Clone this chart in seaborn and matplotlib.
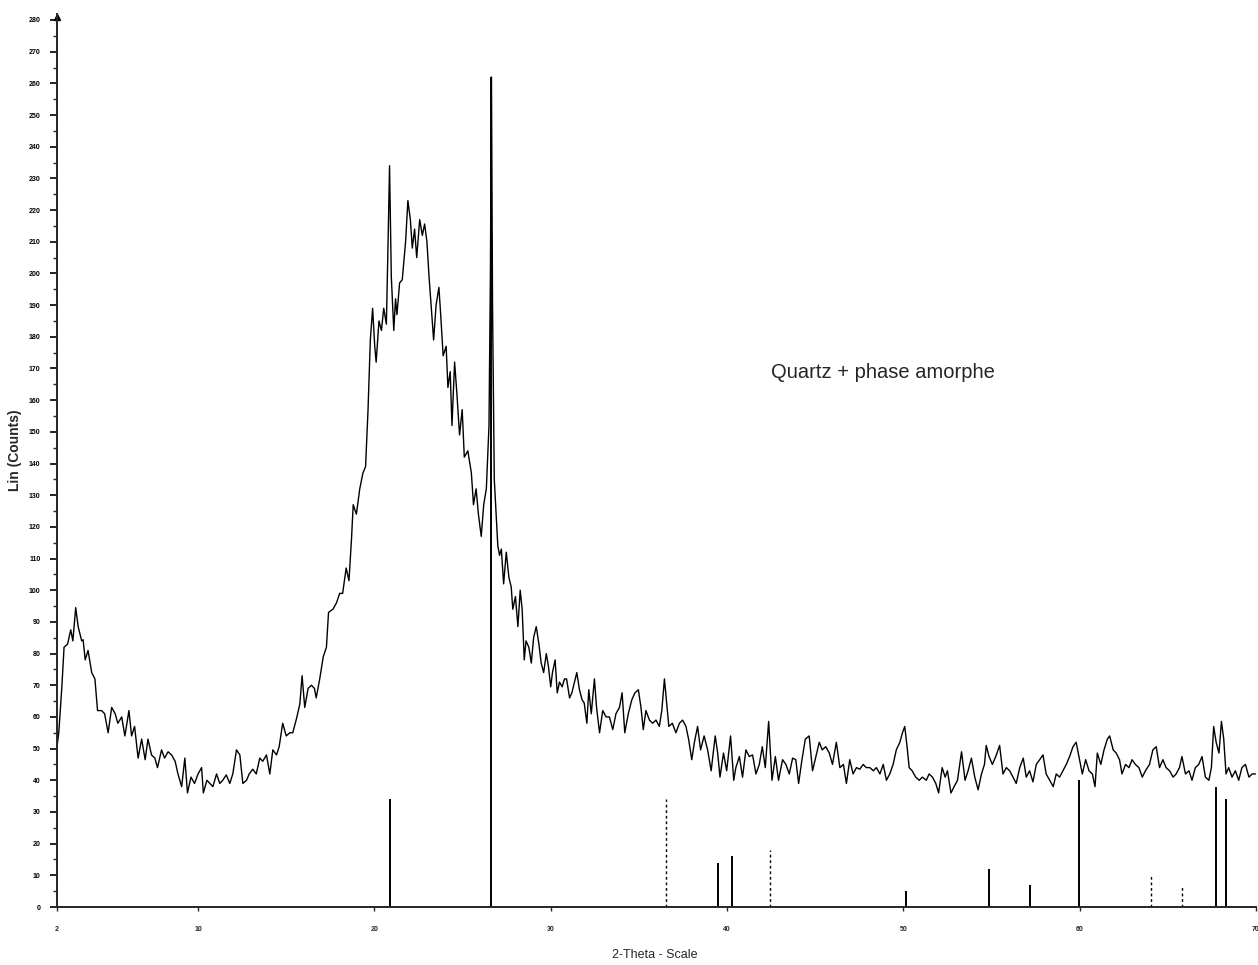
import numpy as np
import pandas as pd
import matplotlib
matplotlib.use("Agg")
import matplotlib.pyplot as plt
from matplotlib import font_manager
import seaborn as sns

# ---------------- data ----------------
theta_a = [2.0, 2.1, 2.27, 2.4, 2.6, 2.78, 2.9, 3.06, 3.2, 3.4, 3.48, 3.6, 3.76, 3.97, 4.15, 4.3,
           4.53, 4.7, 4.9, 5.1, 5.3, 5.45, 5.67, 5.85, 6.08, 6.23, 6.4, 6.6, 6.8, 7.0, 7.16, 7.36,
           7.55, 7.7, 7.93, 8.1, 8.3, 8.5, 8.7, 8.86, 9.07, 9.25, 9.4, 9.6, 9.8, 10.0, 10.2, 10.3,
           10.5, 10.67, 10.84, 11.05, 11.23, 11.4, 11.6, 11.8, 11.97, 12.18, 12.37, 12.54, 12.75,
           12.9, 13.1, 13.3, 13.5, 13.67, 13.88, 14.07, 14.24, 14.45, 14.6, 14.8, 15.0, 15.2,
           15.37, 15.58]
counts_a = [50.6, 55, 69, 82, 83, 87.5, 84, 94.5, 88.5, 84, 84.4, 78, 81, 74, 72, 62,
            62, 61, 55, 63, 61, 58, 60, 54, 62, 54, 57, 47, 53, 46.5, 53, 48,
            47, 44, 49.6, 47, 49, 48, 46, 42, 38, 47, 36, 41, 39, 42, 44, 36,
            40, 39, 38, 42, 39, 40, 41.7, 39, 42, 49.6, 48, 39, 40,
            42, 43.5, 42, 47, 46, 48, 42, 49.6, 48, 50.6, 58, 54, 55,
            55, 59.4]

theta_b = [15.77, 15.9, 16.05, 16.24, 16.43, 16.6, 16.7, 16.9, 17.1, 17.28, 17.4, 17.65, 17.85,
           18.03, 18.2, 18.4, 18.56, 18.7, 18.8, 18.98, 19.17, 19.35, 19.5, 19.64, 19.77, 19.9,
           20.02, 20.1, 20.26, 20.4, 20.53, 20.68, 20.77, 20.86, 20.96, 21.1, 21.2, 21.28, 21.43,
           21.58, 21.77, 21.9, 22.04, 22.15, 22.28, 22.4, 22.57, 22.72, 22.85, 22.98, 23.1, 23.23,
           23.36, 23.5, 23.66, 23.76, 23.9, 24.07, 24.17, 24.3, 24.4, 24.55, 24.68, 24.83, 24.98,
           25.1, 25.3, 25.5, 25.62, 25.77, 25.9, 26.06, 26.2, 26.35, 26.5, 26.58, 26.64, 26.7,
           26.8, 26.9, 27.0, 27.1]
counts_b = [64, 73, 63, 69, 70, 69, 66, 72, 79, 82, 93, 94, 96,
            99, 99, 107, 103, 116, 127, 124, 132, 137, 139, 157, 179, 189,
            177, 172, 185, 182, 189, 184, 208, 234, 199, 182, 192, 187, 197,
            198, 210, 223, 217, 208, 214, 205, 217, 212, 215.6, 210, 199, 189,
            179, 190, 195.6, 187, 174, 177, 164, 169, 152, 172, 162, 149, 157,
            142, 144, 137, 127, 132, 124, 117, 127, 132, 152, 200, 262, 190,
            135, 124.5, 114, 111]

theta_c = [27.2, 27.33, 27.48, 27.63, 27.76, 27.85, 28.0, 28.14, 28.27, 28.38, 28.5, 28.6, 28.76,
           28.9, 29.03, 29.18, 29.33, 29.46, 29.6, 29.75, 29.87, 30.0, 30.1, 30.25, 30.37, 30.5,
           30.65, 30.78, 30.9, 31.07, 31.2, 31.35, 31.48, 31.63, 31.78, 31.9, 32.05, 32.16, 32.3,
           32.48, 32.6, 32.77, 32.95, 33.14, 33.33, 33.52, 33.7, 33.9, 34.05, 34.2, 34.4, 34.6,
           34.78, 34.97, 35.12, 35.25, 35.4, 35.6, 35.78, 35.97, 36.16, 36.3, 36.45, 36.6, 36.7,
           36.9, 37.1, 37.3, 37.48, 37.67, 37.82, 38.0, 38.15, 38.33, 38.5, 38.7]
counts_c = [113, 102, 112, 104, 101, 94, 98, 88.5, 100, 94, 78, 84, 82,
            77, 85, 88.5, 83, 77, 74, 80, 76, 69.5, 74, 78, 67.6, 71,
            69.5, 72, 72, 66, 67.6, 71, 74, 68.6, 65.4, 64.4, 58, 68.6, 61,
            72, 63, 55, 62, 60, 60, 56, 61, 63, 67.6, 55, 61, 65.4,
            67.6, 68.6, 63, 56, 62, 59, 58, 59, 57, 62, 72, 63, 57,
            58, 55, 58, 59, 57, 53, 46.5, 52, 57, 49.6, 54]

theta_d = [38.9, 39.1, 39.33, 39.47, 39.6, 39.8, 39.98, 40.2, 40.38, 40.5, 40.7, 40.88, 41.07,
           41.26, 41.45, 41.64, 41.83, 42.0, 42.17, 42.36, 42.55, 42.74, 42.92, 43.15, 43.34,
           43.53, 43.72, 43.9, 44.06, 44.25, 44.44, 44.66, 44.85, 45.04, 45.23, 45.4, 45.6, 45.8,
           45.98, 46.2, 46.4, 46.6, 46.77, 46.96, 47.15, 47.34, 47.53, 47.72, 47.9, 48.1, 48.3,
           48.47, 48.67, 48.86, 49.04, 49.23, 49.42, 49.6, 49.8, 49.95, 50.08, 50.23, 50.33, 50.5,
           50.7, 50.9, 51.08, 51.3, 51.46, 51.65, 51.84]
counts_d = [49.6, 43, 54, 48.6, 41, 48.6, 43, 54, 40, 44, 47.5, 41, 49.6,
            47.5, 48, 42, 45, 50.6, 44, 58.6, 40, 47.5, 40, 46.5, 45,
            42, 47, 46.5, 39, 46.5, 53, 54, 43, 47.5, 52, 49.6, 50.6, 48.6,
            45, 52, 44, 45, 39, 46.5, 42, 44, 43.5, 45, 44, 44, 43,
            44, 42, 45, 40, 42, 45, 49.6, 52, 55, 57, 49.6, 44, 43,
            41, 40, 41, 40, 42, 41, 39]

theta_e = [52.0, 52.2, 52.37, 52.5, 52.7, 52.88, 53.07, 53.3, 53.5, 53.67, 53.86, 54.05, 54.24,
           54.43, 54.6, 54.7, 54.86, 55.05, 55.24, 55.46, 55.65, 55.84, 56.03, 56.22, 56.4, 56.6,
           56.8, 56.97, 57.16, 57.35, 57.54, 57.73, 57.92, 58.1, 58.3, 58.5, 58.67, 58.86, 59.05,
           59.24, 59.43, 59.62, 59.8, 59.96, 60.15, 60.34, 60.53, 60.72, 60.87, 61.0, 61.2, 61.38,
           61.57, 61.7, 61.9, 62.07, 62.26, 62.4, 62.6, 62.8, 62.97, 63.16, 63.36, 63.55, 63.73,
           63.96, 64.15, 64.34, 64.53, 64.72, 64.9, 65.1, 65.3, 65.47, 65.66, 65.8, 66.0, 66.2,
           66.37, 66.56, 66.75, 66.94, 67.13, 67.33, 67.47, 67.6, 67.74, 67.9, 68.04, 68.17, 68.3,
           68.45, 68.64, 68.83, 69.02, 69.2, 69.4, 69.6, 69.78, 69.97]
counts_e = [36, 44, 41, 43, 36, 38, 40, 49, 40, 43, 47, 41, 37,
            42, 45, 51, 47.5, 45, 47.5, 51, 42, 44, 43, 41, 39, 44,
            47, 41, 43, 39.5, 45, 46.5, 48, 42, 40, 38, 42, 41, 43,
            45, 47.5, 50.6, 52, 47.5, 42, 46.5, 43, 42, 38, 48.6, 45, 49.6,
            53, 54, 49.6, 48.6, 46.5, 42, 45, 44, 46.5, 45, 44, 41, 43,
            45, 49.6, 50.6, 44, 46.5, 44, 43, 41, 42, 44, 47.5, 42, 43,
            40, 44, 45, 47.5, 41, 40, 44, 57, 52, 48.6, 58.6, 53, 42,
            44, 41, 43, 40, 44, 45, 41, 42, 42]

# quartz reference pattern (stick positions, 2-theta, and heights, counts)
quartz_pos = [20.86, 26.64, 39.47, 40.29, 50.14, 54.87, 57.2, 59.96, 67.74, 68.3]
quartz_hgt = [34, 262, 14, 16, 5, 12, 7, 40, 38, 34]
quartz_faint_pos = [36.54, 42.45, 64.03, 65.8]
quartz_faint_hgt = [34, 18, 10, 7]

y_ticks = list(range(0, 290, 10))
x_ticks = [2, 10, 20, 30, 40, 50, 60, 70]
x_tick_labels = ["2", "10", "20", "30", "40", "50", "60", "70"]

# ---------------- figure ----------------
df = pd.DataFrame({
    "two_theta": theta_a + theta_b + theta_c + theta_d + theta_e,
    "counts": counts_a + counts_b + counts_c + counts_d + counts_e,
})

sns.set_style("ticks")
plt.rcParams["font.family"] = ["Liberation Sans", "DejaVu Sans"]

installed = {f.name for f in font_manager.fontManager.ttflist}
narrow = "Liberation Sans Narrow" if "Liberation Sans Narrow" in installed else "Liberation Sans"
narrow_size = 17 if narrow == "Liberation Sans Narrow" else 14.5

W, H = 1258, 965
fig = plt.figure(figsize=(W / 100, H / 100), dpi=100)
ax = fig.add_axes([57 / W, 1 - 907 / H, (1256 - 57) / W, (907 - 20) / H])

sns.lineplot(data=df, x="two_theta", y="counts", ax=ax, color="black",
             linewidth=1.0, estimator=None, sort=False)

ax.vlines(quartz_pos, 0, quartz_hgt, colors="black", linewidth=1.4)
ax.vlines(quartz_faint_pos, 0, quartz_faint_hgt, colors="black",
          linewidth=1.0, linestyles=(0, (2, 2)))

ax.set_xlim(2, 70)
ax.set_ylim(0, 280)
ax.set_yticks(y_ticks)
ax.set_yticklabels([str(v) for v in y_ticks], fontsize=5, fontweight="bold")
ax.set_yticks(list(range(5, 280, 10)), minor=True)
ax.set_xticks(x_ticks)
ax.set_xticklabels(x_tick_labels, fontsize=5, fontweight="bold")
ax.tick_params(axis="y", which="major", length=5, width=1.2, pad=7, colors="black")
ax.tick_params(axis="y", which="minor", length=3, width=1.0)
ax.tick_params(axis="x", which="major", length=3, width=1.0, pad=11)
ax.set_xlabel("")
ax.set_ylabel("")
for side in ["top", "right"]:
    ax.spines[side].set_visible(False)
ax.spines["left"].set_linewidth(1.4)
ax.spines["bottom"].set_linewidth(1.4)
ax.spines["left"].set_bounds(0, 282)
ax.plot([2], [281], marker="^", color="black", markersize=4, clip_on=False)

fig.text(15 / W, 1 - 450 / H, "Lin (Counts)", rotation=90, ha="center", va="center",
         fontsize=10, fontweight="bold")
fig.text(655 / W, 1 - 955 / H, "2-Theta - Scale", ha="center", va="center",
         fontsize=9, family=[narrow, "DejaVu Sans"])
fig.text(883 / W, 1 - 378 / H, "Quartz + phase amorphe", ha="center", va="baseline",
         fontsize=narrow_size, family=[narrow, "DejaVu Sans"])

fig.savefig("out.png", dpi=100, facecolor="white")
